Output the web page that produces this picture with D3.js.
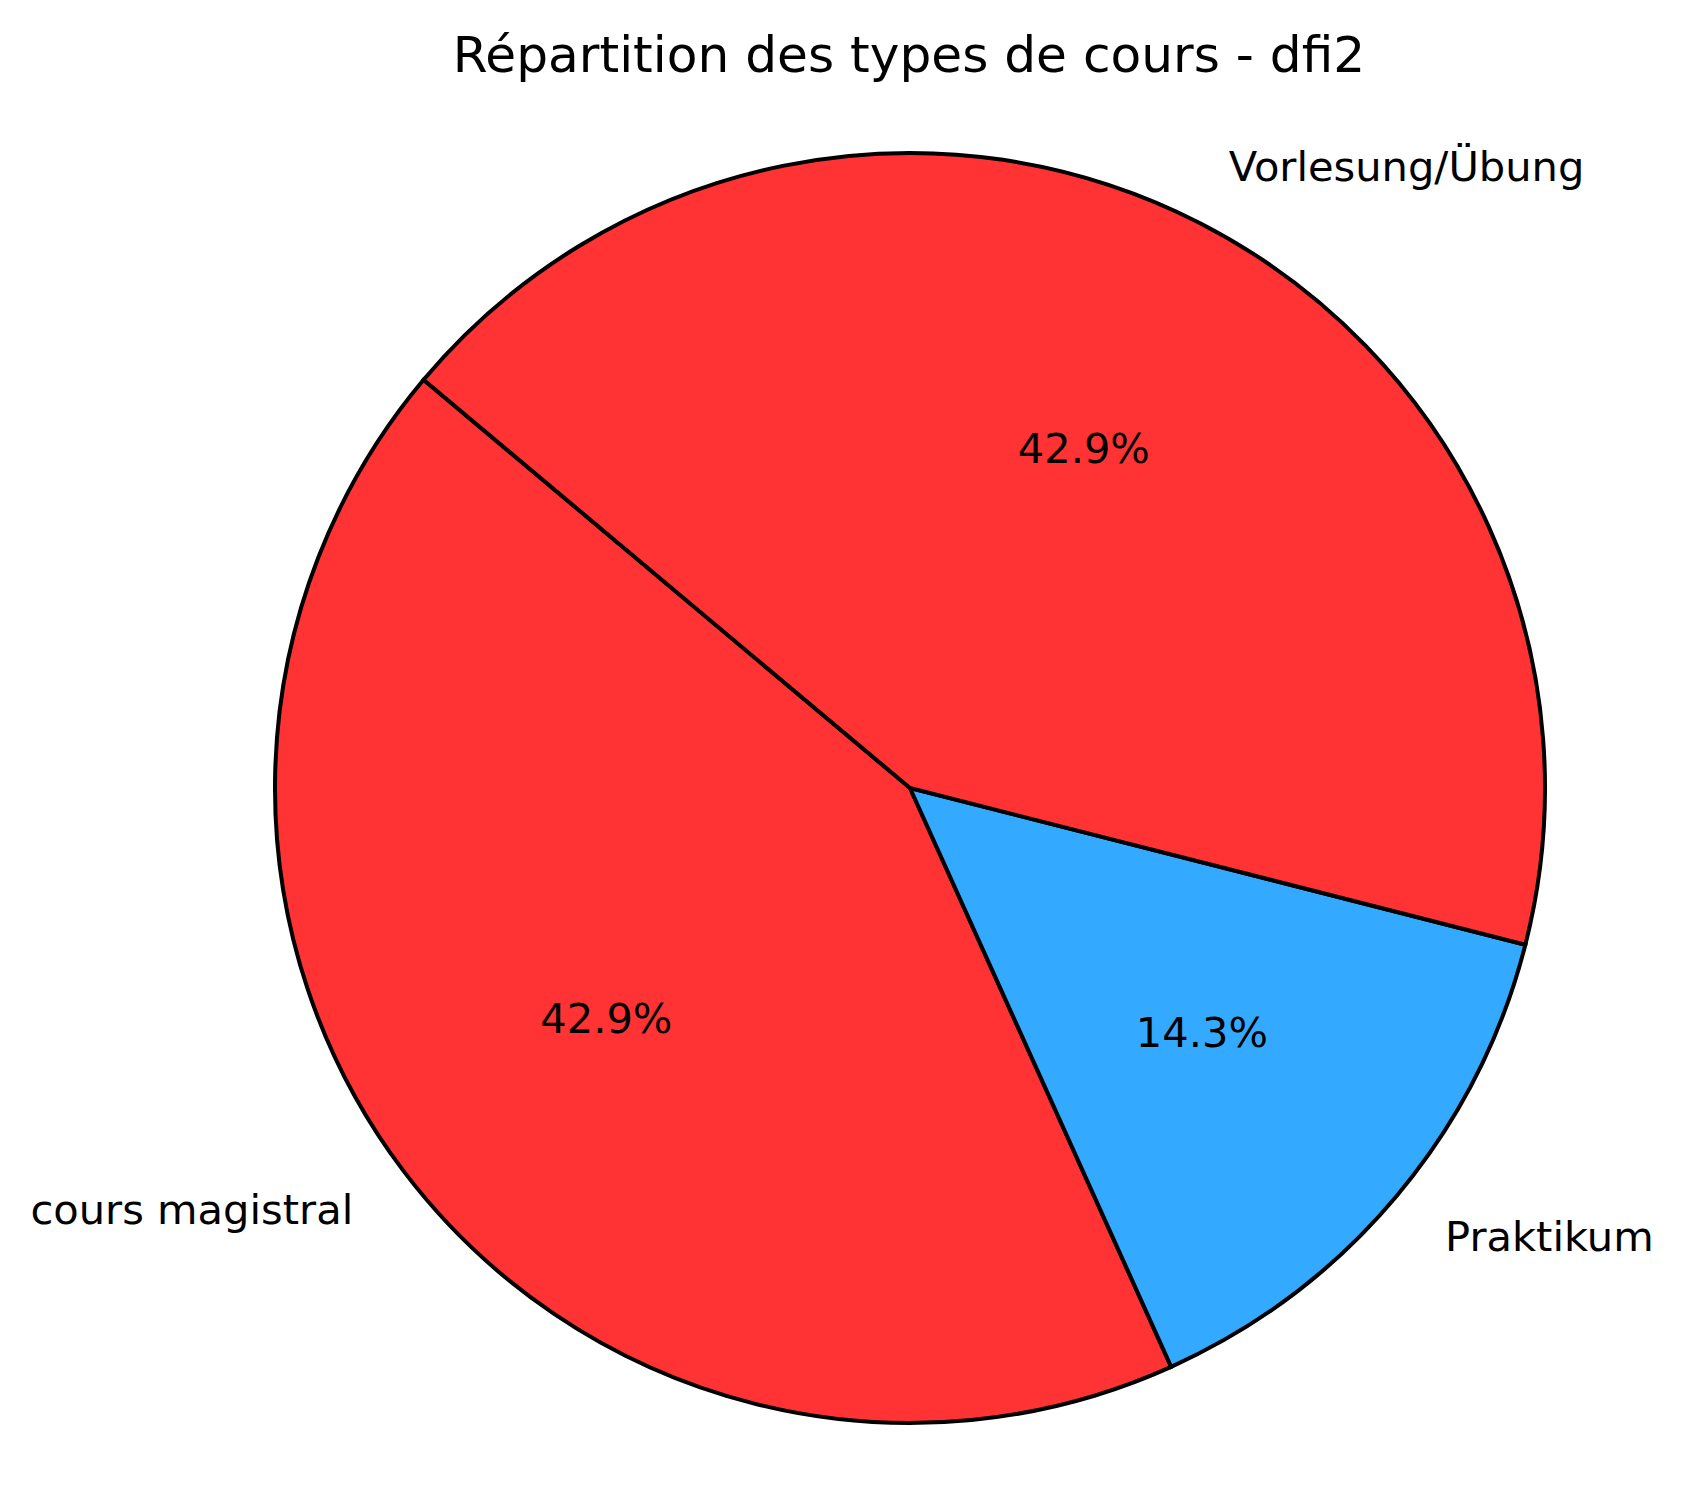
<!DOCTYPE html>
<html>
<head>
<meta charset="utf-8">
<script src="https://cdn.jsdelivr.net/npm/d3@7"></script>
<style>
html, body { margin: 0; padding: 0; background: #ffffff; }
svg { display: block; }
text { font-family: "DejaVu Sans", sans-serif; fill: #000; }
</style>
</head>
<body>
<svg id="chart" width="1681" height="1511"></svg>
<script>
const title = "Répartition des types de cours - dfi2";
const categories = ["cours magistral", "Praktikum", "Vorlesung/Übung"];
const values = [3, 1, 3];
const colors = ["#ff3333", "#33aaff", "#ff3333"];
const startAngleDeg = 140; // matplotlib-style start angle, counterclockwise

const W = 1681, H = 1511;
const cx = 910, cy = 788, R = 635;

const svg = d3.select("#chart");
svg.append("rect").attr("width", W).attr("height", H).attr("fill", "#fff");

svg.append("text")
  .attr("x", 909).attr("y", 54)
  .attr("text-anchor", "middle")
  .attr("dominant-baseline", "central")
  .style("font-size", "50.2px")
  .text(title);

const total = d3.sum(values);
const toRad = d => d * Math.PI / 180;
// d3 angles: 0 at 12 o'clock, clockwise. matplotlib: 0 at 3 o'clock, ccw.
const s0 = toRad(90 - startAngleDeg);
const pie = d3.pie().sort(null).value(d => d).startAngle(s0).endAngle(s0 - 2 * Math.PI);
const arcs = pie(values);

const arc = d3.arc().innerRadius(0).outerRadius(R);
const g = svg.append("g").attr("transform", `translate(${cx},${cy})`);

g.selectAll("path.slice").data(arcs).enter().append("path")
  .attr("class", "slice")
  .attr("d", arc)
  .attr("fill", (d, i) => colors[i])
  .attr("stroke", "#000")
  .attr("stroke-width", 4)
  .attr("stroke-linejoin", "miter");

const pct = d3.format(".1f");
arcs.forEach((d, i) => {
  const mid = (d.startAngle + d.endAngle) / 2;
  const sx = Math.sin(mid), sy = -Math.cos(mid);
  const lx = 1.1 * R * sx, ly = 1.1 * R * sy;
  g.append("text")
    .attr("x", lx).attr("y", ly)
    .attr("text-anchor", lx > 0 ? "start" : "end")
    .attr("dominant-baseline", "central")
    .style("font-size", "41.6px")
    .text(categories[i]);
  g.append("text")
    .attr("x", 0.6 * R * sx).attr("y", 0.6 * R * sy)
    .attr("text-anchor", "middle")
    .attr("dominant-baseline", "central")
    .style("font-size", "41.6px")
    .text(pct(values[i] / total * 100) + "%");
});
</script>
</body>
</html>
